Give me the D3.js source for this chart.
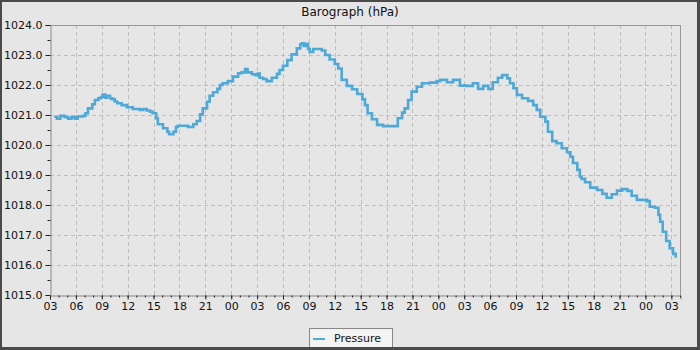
<!DOCTYPE html>
<html><head><meta charset="utf-8">
<script src="https://cdn.jsdelivr.net/npm/d3@7"></script>
<style>html,body{margin:0;padding:0;background:#e6e6e6;}svg{display:block;font-family:"DejaVu Sans",sans-serif;}</style>
</head><body>
<script>
const title = "Barograph (hPa)";
const seriesName = "Pressure";
// hours since day-1 midnight
const hours = [3.5,3.8,4.2,4.7,5.1,5.5,5.9,6.2,6.8,7.1,7.4,7.9,8.2,8.6,8.9,9.1,9.4,9.6,9.95,10.2,10.5,10.8,11.3,11.9,12.6,13.4,13.8,14.2,14.6,14.9,15.3,15.5,16.1,16.6,16.8,17.3,17.6,17.8,18.6,19.0,19.6,20.0,20.4,20.7,21.2,21.5,21.9,22.4,22.7,23.0,23.6,24.2,24.8,25.2,25.6,25.9,26.4,26.8,27.1,27.3,27.7,28.1,28.7,29.3,29.6,30.0,30.5,31.0,31.6,32.0,32.2,32.4,32.7,32.9,33.1,33.5,34.1,34.5,34.9,35.4,36.0,36.4,36.8,37.4,38.0,38.6,39.2,39.5,39.8,40.3,40.9,41.6,43.0,43.3,43.8,44.1,44.5,44.9,45.5,46.1,47.0,47.8,48.2,49.0,49.7,50.5,51.3,52.0,52.6,53.2,53.8,54.3,54.9,55.4,56.0,56.3,56.7,57.1,57.7,58.4,59.0,59.4,59.8,60.4,60.7,61.2,61.7,62.3,62.9,63.3,63.6,64.1,64.4,64.6,65.0,65.6,66.4,67.0,67.5,68.1,68.7,69.3,69.9,70.4,71.0,71.7,72.2,72.5,73.1,73.5,73.7,74.0,74.4,74.8,75.2,75.5];
const pressure = [1020.94,1020.88,1020.97,1020.93,1020.88,1020.93,1020.88,1020.95,1020.97,1021.06,1021.22,1021.36,1021.5,1021.56,1021.6,1021.68,1021.58,1021.64,1021.56,1021.53,1021.45,1021.39,1021.33,1021.26,1021.2,1021.17,1021.2,1021.15,1021.11,1021.06,1020.89,1020.69,1020.56,1020.44,1020.36,1020.44,1020.6,1020.64,1020.64,1020.6,1020.69,1020.8,1021.02,1021.22,1021.44,1021.64,1021.76,1021.87,1022.0,1022.06,1022.13,1022.28,1022.39,1022.42,1022.53,1022.42,1022.36,1022.33,1022.38,1022.24,1022.2,1022.13,1022.24,1022.37,1022.5,1022.64,1022.83,1023.02,1023.22,1023.36,1023.39,1023.3,1023.37,1023.2,1023.1,1023.2,1023.2,1023.15,1023.0,1022.85,1022.7,1022.55,1022.17,1021.97,1021.86,1021.7,1021.52,1021.33,1021.06,1020.86,1020.67,1020.63,1020.63,1020.89,1021.08,1021.22,1021.5,1021.78,1021.94,1022.06,1022.08,1022.13,1022.17,1022.09,1022.17,1021.98,1021.97,1022.06,1021.87,1021.97,1021.87,1022.09,1022.24,1022.33,1022.22,1022.06,1021.89,1021.67,1021.56,1021.47,1021.33,1021.17,1020.94,1020.78,1020.44,1020.13,1020.06,1019.89,1019.76,1019.61,1019.4,1019.17,1018.94,1018.87,1018.76,1018.58,1018.5,1018.37,1018.24,1018.36,1018.48,1018.53,1018.47,1018.31,1018.17,1018.17,1018.13,1017.94,1017.91,1017.67,1017.44,1017.11,1016.8,1016.56,1016.37,1016.24];
const hourDomain = [3, 76.06];
const yDomain = [1015, 1024];
const yTicks = [1015,1016,1017,1018,1019,1020,1021,1022,1023,1024];

const W = 700, H = 350;
const m = {l:50, r:20, t:25, b:55};
const base = new Date(2024, 0, 1, 0, 0, 0);
const toDate = h => new Date(base.getTime() + h * 3600000);
const data = hours.map((h, i) => ({t: toDate(h), v: pressure[i]}));

const svg = d3.select("body").append("svg").attr("width", W).attr("height", H);
svg.append("rect").attr("width", W).attr("height", H).attr("fill", "#e6e6e6");

const x = d3.scaleTime().domain(hourDomain.map(toDate)).range([m.l, W - m.r + 0.5]);
const y = d3.scaleLinear().domain(yDomain).range([H - m.b, m.t]);

// grid
const g = svg.append("g");
const xMajor = d3.timeHour.every(3).range(x.domain()[0], x.domain()[1]);
g.selectAll(".gx").data(xMajor.filter(d => x(d) > m.l + 1)).join("line")
  .attr("x1", d => Math.round(x(d)) + 0.5).attr("x2", d => Math.round(x(d)) + 0.5)
  .attr("y1", m.t).attr("y2", H - m.b)
  .attr("stroke", "#bdbdbd").attr("stroke-dasharray", "4,3");
g.selectAll(".gy").data(yTicks.slice(1, -1)).join("line")
  .attr("x1", m.l).attr("x2", W - m.r)
  .attr("y1", d => Math.round(y(d)) + 0.5).attr("y2", d => Math.round(y(d)) + 0.5)
  .attr("stroke", "#bdbdbd").attr("stroke-dasharray", "4,3");

// frame top/right
svg.append("line").attr("x1", m.l).attr("x2", W - m.r + 0.5).attr("y1", m.t + 0.5).attr("y2", m.t + 0.5).attr("stroke", "#999");
svg.append("line").attr("x1", W - m.r + 0.5).attr("x2", W - m.r + 0.5).attr("y1", m.t).attr("y2", H - m.b).attr("stroke", "#999");

// line
svg.append("path").datum(data)
  .attr("fill", "none").attr("stroke", "#4ea9d9").attr("stroke-width", 2.6)
  .attr("d", d3.line().x(d => x(d.t)).y(d => y(d.v)).curve(d3.curveStepAfter));

// axes
const xAxis = svg.append("g").attr("transform", `translate(0,${H - m.b + 0.5})`)
  .call(d3.axisBottom(x).ticks(d3.timeHour.every(3)).tickFormat(d3.timeFormat("%H")).tickSize(4).tickPadding(3));
const xMinor = svg.append("g").attr("transform", `translate(0,${H - m.b + 0.5})`)
  .call(d3.axisBottom(x).ticks(d3.timeHour.every(1)).tickFormat("").tickSize(2));
xMinor.select(".domain").remove();
const yAxis = svg.append("g").attr("transform", `translate(${m.l + 0.5},0)`)
  .call(d3.axisLeft(y).tickValues(yTicks).tickFormat(d3.format(".1f")).tickSize(5).tickPadding(3));
const yMinor = svg.append("g").attr("transform", `translate(${m.l + 0.5},0)`)
  .call(d3.axisLeft(y).tickValues(d3.range(1015.5, 1024, 1)).tickFormat("").tickSize(3));
yMinor.select(".domain").remove();
[xAxis, yAxis].forEach(a => {
  a.select(".domain").attr("stroke", "#888");
  a.selectAll("text").attr("font-size", 11).attr("fill", "#111").attr("font-family", "DejaVu Sans");
});
svg.selectAll(".tick line").attr("stroke", "#222");

// title
svg.append("text").attr("x", 350).attr("y", 16).attr("text-anchor", "middle")
  .attr("font-size", 12).attr("fill", "#111").text(title);

// legend
const lg = svg.append("g");
lg.append("rect").attr("x", 309.5).attr("y", 328.5).attr("width", 83).attr("height", 19)
  .attr("fill", "#f3f3f3").attr("stroke", "#888");
lg.append("line").attr("x1", 313).attr("x2", 325).attr("y1", 339).attr("y2", 339)
  .attr("stroke", "#4ea9d9").attr("stroke-width", 2);
lg.append("text").attr("x", 334).attr("y", 342).attr("font-size", 11).attr("fill", "#111").text(seriesName);

// outer border
svg.append("rect").attr("x", 1).attr("y", 1).attr("width", W - 2.5).attr("height", H - 2.5)
  .attr("fill", "none").attr("stroke", "#4a4a4a").attr("stroke-width", 2);
svg.append("line").attr("x1", W - 1.5).attr("x2", W - 1.5).attr("y1", 0).attr("y2", H).attr("stroke", "#4a4a4a").attr("stroke-width", 3);
svg.append("line").attr("x1", 0).attr("x2", W).attr("y1", H - 1.5).attr("y2", H - 1.5).attr("stroke", "#4a4a4a").attr("stroke-width", 3);
</script>
</body></html>
